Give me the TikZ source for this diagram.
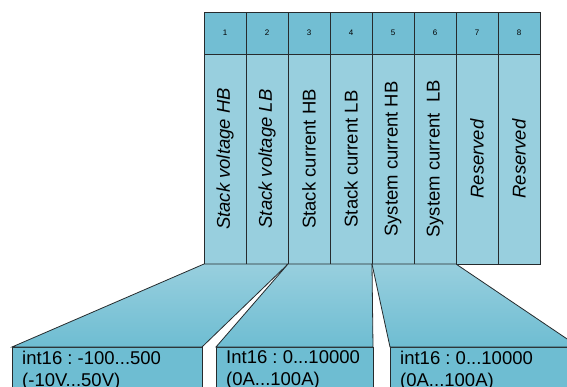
\documentclass[tikz,border=0pt]{standalone}
\usepackage{fontspec}
\setmainfont{Liberation Sans}
\frenchspacing
\usetikzlibrary{positioning}
\definecolor{regdark}{HTML}{72BED3}
\definecolor{reglight}{HTML}{98CFDE}
\definecolor{regbox}{HTML}{6EBDD2}
\definecolor{regline}{HTML}{262B2D}

\begin{document}
\begin{tikzpicture}[
  x=1pt, y=-1pt,
  cell/.style={rectangle, draw=regline, line width=0.8pt, outer sep=0pt, inner sep=0pt, minimum width=42pt},
  hdr/.style={cell, fill=regdark, minimum height=42pt, font=\fontsize{8}{9}\selectfont},
  field/.style={cell, fill=reglight, minimum height=210pt},
  fieldtext/.style={rotate=90, inner sep=0pt},
  valbox/.style={rectangle, draw=regline, line width=0.8pt, fill=regbox, anchor=north west, outer sep=0pt, minimum height=60pt},
  valtext/.style={anchor=north west, align=left, inner xsep=10pt, inner ysep=3.5pt, font=\fontsize{18.5}{22}\selectfont},
  zoom/.style={draw=regline, line width=0.8pt, top color=reglight, bottom color=regbox},
]
\clip (0,0) rectangle (567,386);

% one column per byte
\foreach \i/\shp/\txt in {1/\itshape/Stack voltage HB, 2/\itshape/Stack voltage LB,
    3/\upshape/Stack current HB, 4/\upshape/Stack current LB,
    5/\upshape/System current HB, 6/\upshape/System current \ LB,
    7/\itshape/Reserved, 8/\itshape/Reserved} {
  \node[hdr] (hdr\i) at ({225+42*(\i-1)},33) {\i};
  \node[field, below=0pt of hdr\i] (fld\i) {};
  \node[fieldtext, font=\fontsize{18.5}{22}\selectfont\shp] (lbl\i) at (fld\i.center) {\txt};
}

% value ranges
\node[valbox, minimum width=190pt] (val1) at (12,347) {};
\node[valbox, minimum width=157pt] (val2) at (216,347) {};
\node[valbox, minimum width=189pt] (val3) at (390,347) {};
\node[valtext] (rng1) at (val1.north west) {int16 : -100...500\\(-10V...50V)};
\node[valtext] (rng2) at (val2.north west) {Int16 : 0...10000\\(0A...100A)};
\node[valtext] (rng3) at (val3.north west) {int16 : 0...10000\\(0A...100A)};

\draw[zoom] (fld1.south west) -- (fld2.south east) -- (val1.north east) -- (val1.north west) -- cycle;
\draw[zoom] (fld3.south west) -- (fld4.south east) -- (val2.north east) -- (val2.north west) -- cycle;
\draw[zoom] (fld5.south west) -- (fld6.south east) -- (val3.north east) -- (val3.north west) -- cycle;
\end{tikzpicture}
\end{document}
